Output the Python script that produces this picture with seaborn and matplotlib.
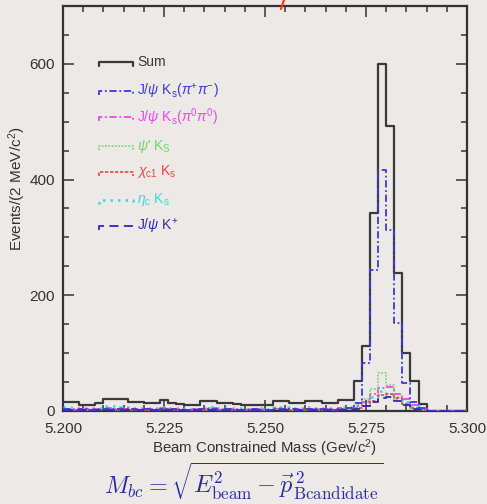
import numpy as np
import pandas as pd
import matplotlib
matplotlib.use("Agg")
import matplotlib.pyplot as plt
from matplotlib.lines import Line2D
from matplotlib.ticker import MultipleLocator
import seaborn as sns

# ---- data (2 MeV bins from 5.200 to 5.300 GeV) ----
bin_lo = 5.200
bin_hi = 5.300
bin_w = 0.002

sum_counts = [15, 15, 11, 11, 13, 21, 21, 20, 16, 15,
              13, 13, 19, 13, 12, 10, 10, 17, 17, 13,
              13, 12, 10, 10, 11, 10, 18, 18, 14, 14,
              18, 17, 14, 14, 19, 19, 51, 112, 343, 600,
              492, 239, 100, 51, 12, 0, 0, 0, 0, 0]
jpsi_ks_pipi = [3, 2, 3, 2, 3, 4, 3, 4, 3, 2,
                3, 2, 4, 3, 2, 2, 3, 3, 4, 2,
                3, 2, 2, 3, 2, 2, 4, 3, 3, 2,
                3, 4, 3, 2, 4, 5, 14, 83, 244, 417,
                313, 152, 48, 15, 5, 0, 0, 0, 0, 0]
jpsi_ks_pi0pi0 = [4, 3, 3, 4, 3, 5, 4, 5, 4, 3,
                  4, 3, 5, 3, 3, 2, 3, 4, 5, 3,
                  3, 3, 2, 3, 3, 2, 5, 4, 3, 3,
                  4, 4, 3, 3, 5, 5, 8, 15, 30, 40,
                  42, 30, 20, 10, 3, 0, 0, 0, 0, 0]
psi2s_ks = [2, 2, 1, 2, 2, 3, 2, 2, 2, 1,
            2, 2, 3, 2, 1, 1, 2, 2, 3, 2,
            2, 1, 1, 2, 1, 1, 3, 2, 2, 2,
            2, 2, 2, 1, 3, 3, 5, 20, 38, 66,
            45, 25, 10, 4, 1, 0, 0, 0, 0, 0]
chic1_ks = [2, 1, 2, 1, 2, 3, 2, 3, 2, 2,
            2, 1, 3, 2, 2, 1, 1, 2, 3, 2,
            2, 2, 1, 1, 2, 1, 3, 3, 2, 2,
            3, 2, 2, 2, 3, 3, 5, 8, 18, 28,
            30, 22, 12, 5, 2, 0, 0, 0, 0, 0]
etac_ks = [7, 6, 5, 5, 6, 8, 8, 7, 6, 6,
           5, 5, 7, 5, 5, 4, 4, 6, 7, 5,
           5, 5, 4, 4, 5, 4, 7, 7, 5, 5,
           7, 6, 5, 5, 7, 7, 10, 18, 24, 35,
           30, 22, 15, 8, 3, 0, 0, 0, 0, 0]
jpsi_kplus = [1, 1, 1, 1, 1, 2, 2, 1, 1, 1,
              1, 1, 2, 1, 1, 1, 1, 1, 2, 1,
              1, 1, 1, 1, 1, 1, 2, 2, 1, 1,
              2, 1, 1, 1, 2, 2, 4, 8, 15, 22,
              25, 18, 10, 4, 1, 0, 0, 0, 0, 0]

series_names = ["Sum", r"J/$\psi$ K$_{\rm s}$($\pi^{+}\pi^{-}$)",
                r"J/$\psi$ K$_{\rm s}$($\pi^{0}\pi^{0}$)", r"$\psi$' K$_{\rm S}$",
                r"$\chi_{\rm c1}$ K$_{\rm s}$", r"$\eta_{\rm c}$ K$_{\rm s}$",
                r"J/$\psi$ K$^{+}$"]
series_values = [sum_counts, jpsi_ks_pipi, jpsi_ks_pi0pi0, psi2s_ks,
                 chic1_ks, etac_ks, jpsi_kplus]

# ---- styles ----
colors = ["#3a3a3a", "#3b3bd8", "#ee44ee", "#66dd66", "#ee4444", "#33dddd", "#2a2ab0"]
styles = ["-", (0, (4, 1.5, 1, 1.5)), (0, (4, 1.5, 1, 1.5)), (0, (1, 1)),
          (0, (2, 1)), (0, (1, 2)), (0, (5, 3))]
widths = [1.6, 1.3, 1.3, 1.2, 1.2, 1.8, 1.3]

bg = "#ece9e6"
sns.set_theme(style="ticks")
plt.rcParams["font.family"] = ["Liberation Sans", "DejaVu Sans"]
plt.rcParams["mathtext.fontset"] = "custom"
plt.rcParams["mathtext.rm"] = "Liberation Sans"
plt.rcParams["mathtext.it"] = "Liberation Sans:italic"
plt.rcParams["mathtext.bf"] = "Liberation Sans:bold"

fig = plt.figure(figsize=(4.87, 5.04), dpi=100, facecolor=bg)
ax = fig.add_axes([63 / 487, 1 - 411 / 504, 404 / 487, 405 / 504])
ax.set_facecolor(bg)

edges = np.round(np.arange(bin_lo, bin_hi + bin_w / 2, bin_w), 4)
centers = (edges[:-1] + edges[1:]) / 2

order = [0, 5, 2, 3, 4, 6, 1]
for i in order:
    df = pd.DataFrame({"mass": centers, "count": np.asarray(series_values[i], dtype=float)})
    sns.histplot(data=df, x="mass", weights="count", bins=list(edges), element="step",
                 fill=False, color=colors[i], linestyle=styles[i],
                 linewidth=widths[i], ax=ax, zorder=3 if i == 0 else 4)

ax.set_xlim(5.200, 5.300)
ax.set_ylim(0, 700)
ax.xaxis.set_minor_locator(MultipleLocator(0.005))
ax.yaxis.set_major_locator(MultipleLocator(200))
ax.yaxis.set_minor_locator(MultipleLocator(50))
ax.set_xticks([5.200, 5.225, 5.250, 5.275, 5.300])
ax.set_xticklabels(["5.200", "5.225", "5.250", "5.275", "5.300"])
ax.tick_params(which="both", direction="in", top=True, right=True,
               colors="#333333", labelsize=11, width=1.1)
ax.tick_params(which="major", length=8)
ax.tick_params(which="minor", length=4)
ax.tick_params(axis="x", which="major", pad=8)
ax.tick_params(axis="y", which="major", pad=6)
for s in ax.spines.values():
    s.set_color("#333333")
    s.set_linewidth(1.6)

ax.set_xlabel(r"Beam Constrained Mass (Gev/c$^{2}$)", fontsize=10.8, color="#333333", labelpad=1)
ax.set_ylabel(r"Events/(2 MeV/c$^{2}$)", fontsize=11, color="#333333")
ax.yaxis.set_label_coords((28 - 63) / 404, (411 - 189) / 405)

# ---- custom legend ----
leg_y = [62, 91, 117, 146, 172, 200, 226]
x0, x1 = 99, 133
for i, yp in enumerate(leg_y):
    yf = 1 - yp / 504
    h = 4 / 504
    line = Line2D([x0 / 487, x0 / 487, x1 / 487, x1 / 487],
                  [yf - h, yf, yf, yf - h], transform=fig.transFigure,
                  color=colors[i], linestyle=styles[i], linewidth=widths[i])
    fig.add_artist(line)
    fig.text(137 / 487, yf, series_names[i], color=colors[i], fontsize=10,
             va="center", ha="left")

# ---- formula ----
fig.text(244 / 487, 1 - 481 / 504,
         r"$M_{bc} = \sqrt{E^{2}_{\rm beam} - \vec{p}^{\,2}_{\rm Bcandidate}}$",
         color="#2a2aa0", fontsize=17.5, ha="center", va="center", math_fontfamily="cm")

# clipped red mark at top
fig.add_artist(Line2D([281 / 487, 284 / 487], [1 - 9 / 504, 1.0],
                      transform=fig.transFigure, color="#ff3300", linewidth=1.5))

fig.savefig("out.png", dpi=100, facecolor=bg)
